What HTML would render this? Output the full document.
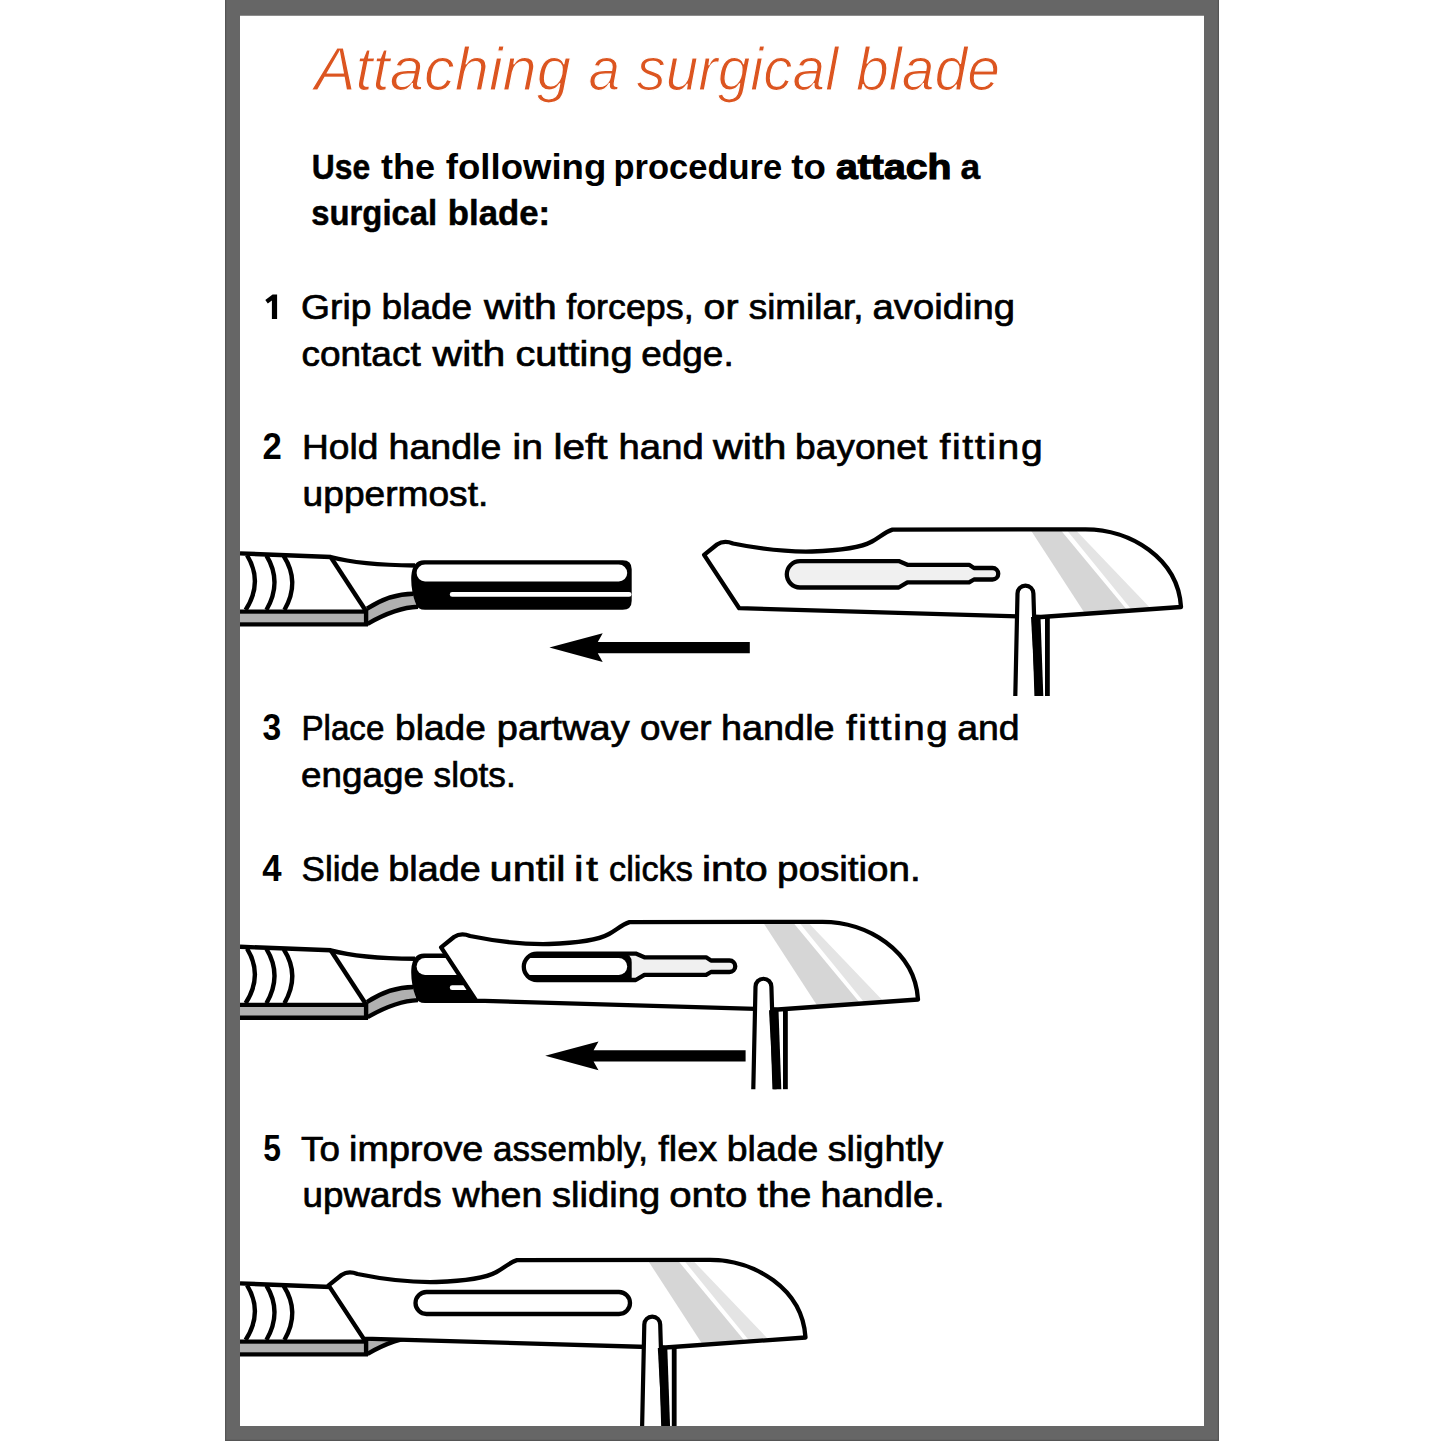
<!DOCTYPE html>
<html><head><meta charset="utf-8"><title>Attaching a surgical blade</title>
<style>
html,body{margin:0;padding:0;background:#fff;width:1445px;height:1445px;overflow:hidden}
svg{display:block;position:absolute;left:0;top:0}
text{font-family:"Liberation Sans",sans-serif}
.it{font-size:35.6px;fill:#000}
.num{font-size:35.6px;font-weight:bold;fill:#000}
</style></head>
<body>
<svg width="1445" height="1445" viewBox="0 0 1445 1445">
<defs>
  <!-- handle, step-2 coordinates -->
  <g id="handle">
    <path d="M240,613.4 L366,613.4 L366,622.6 L240,622.6 Z" fill="#b0b0b0"/>
    <path d="M367.1,608.7 Q389.8,593.7 413.5,593.7 L416,606.5 Q396.2,607.5 367.6,623.8 Z" fill="#b0b0b0"/>
    <g fill="none" stroke="#000" stroke-width="4.4">
      <path d="M240,553.4 L330.7,557 Q360,565 415,565.5"/>
      <path d="M330.7,557 L366,611"/>
      <path d="M240,611.6 L366,611.6"/>
      <path d="M240,624.4 L368,624.4"/>
      <path d="M366.1,609 L366.1,626"/>
      <path d="M367.1,608.7 Q389.8,593.7 413.5,593.7"/>
      <path d="M367.6,623.8 Q396.2,607.5 418,606.8"/>
      <path d="M247,555.2 Q263.5,582 245.6,610"/>
      <path d="M266.4,555.5 Q282.6,582 266.4,610"/>
      <path d="M283.7,556 Q300.5,582 284.4,610"/>
    </g>
    <path d="M424,560.3 L622.7,560.3 Q631.7,560.3 631.7,569.3 L631.7,600.8 Q631.7,609.8 622.7,609.8 L425,609.8 Q417.5,609.8 415.8,604 C412.5,595 410.8,585 411.3,576 Q412.5,560.3 424,560.3 Z" fill="#000"/>
    <rect x="416.6" y="564.6" width="210.6" height="17" rx="8.5" fill="#fff"/>
    <rect x="449.8" y="591.9" width="181.7" height="4.9" rx="2.4" fill="#fff"/>
  </g>
  <path id="bladeBody" d="M704.1,554.9 L717,544.5 Q724,539.8 733,543.5 C760,549 790,552 812,551.5 C840,550.5 862,547 872,541.5 C880,537 885,532 892.5,529.6 L1085.5,529.4 C1130,529.4 1178,558 1181,607 L1041,617 L739.2,608.2 Z"/>
  <path id="slot" d="M800,561.1 L898.7,561.1 L907.4,564.8 L969.1,564.8 L974,568 L992.5,568 A5.75,5.75 0 0 1 992.5,579.5 L974,579.5 L969.1,582.3 L907.4,582.3 L898.7,587.5 L800,587.5 A13.2,13.2 0 0 1 800,561.1 Z"/>
  <clipPath id="bladeClip"><use href="#bladeBody"/></clipPath>
  <g id="stripesRaw">
    <path d="M1030,529 L1059.8,529 L1132.8,617 L1087.2,617 Z" fill="#d6d6d6"/>
    <path d="M1065.9,529 L1074.7,529 L1158.8,617 L1137.5,617 Z" fill="#e4e4e4"/>
  </g>
  <g id="forceps">
    <path d="M1015.3,696 L1017.5,593.5 A7.95,7.95 0 0 1 1033.4,593.5 L1036.5,696" fill="#fff" stroke="#000" stroke-width="4.2"/>
    <path d="M1031,617 L1040.5,617 L1043.3,696 L1035.3,696 Z" fill="#000"/>
    <rect x="1045" y="617" width="4.8" height="79" fill="#000"/>
  </g>
  <path id="arrow" d="M549.4,647.5 L602.7,633.2 L597.8,642 L749.8,642 L749.8,653.2 L597.8,653.2 L602.7,661.9 Z" fill="#000"/>
</defs>

<!-- frame -->
<rect x="225" y="0" width="994" height="1441" fill="#666"/>
<rect x="240" y="15.5" width="964" height="1410.5" fill="#fff"/>

<!-- text -->
<text x="314.5" y="89.5" font-size="62" font-style="italic" fill="#dc5520" stroke="#fff" stroke-width="1.2" textLength="256.5" lengthAdjust="spacingAndGlyphs">Attaching</text>
<text x="588.5" y="89.5" font-size="62" font-style="italic" fill="#dc5520" stroke="#fff" stroke-width="1.2" textLength="31.6" lengthAdjust="spacingAndGlyphs">a</text>
<text x="636.4" y="89.5" font-size="62" font-style="italic" fill="#dc5520" stroke="#fff" stroke-width="1.2" textLength="201.8" lengthAdjust="spacingAndGlyphs">surgical</text>
<text x="855.9" y="89.5" font-size="62" font-style="italic" fill="#dc5520" stroke="#fff" stroke-width="1.2" textLength="144.1" lengthAdjust="spacingAndGlyphs">blade</text>
<text x="311.8" y="178.6" font-size="35.3" font-weight="bold" textLength="58.4" lengthAdjust="spacingAndGlyphs" stroke="#000" stroke-width="0.5">Use</text>
<text x="380.9" y="178.6" font-size="35.3" font-weight="bold" textLength="54.1" lengthAdjust="spacingAndGlyphs">the</text>
<text x="445.8" y="178.6" font-size="35.3" font-weight="bold" textLength="160.5" lengthAdjust="spacingAndGlyphs">following</text>
<text x="613.5" y="178.6" font-size="35.3" font-weight="bold" textLength="168.7" lengthAdjust="spacingAndGlyphs">procedure</text>
<text x="791.2" y="178.6" font-size="35.3" font-weight="bold" textLength="34.6" lengthAdjust="spacingAndGlyphs">to</text>
<text x="836.1" y="178.6" font-size="35.3" font-weight="bold" stroke="#000" stroke-width="1.2" textLength="115.2" lengthAdjust="spacingAndGlyphs">attach</text>
<text x="960.4" y="178.6" font-size="35.3" font-weight="bold" stroke="#000" stroke-width="0.5">a</text>
<text x="311.3" y="224.7" font-size="35.3" font-weight="bold" textLength="125.8" lengthAdjust="spacingAndGlyphs" stroke="#000" stroke-width="0.5">surgical</text>
<text x="447.8" y="224.7" font-size="35.3" font-weight="bold" textLength="102.2" lengthAdjust="spacingAndGlyphs" stroke="#000" stroke-width="0.5">blade:</text>
<text x="301.1" y="318.8" font-size="35.6" stroke="#000" stroke-width="0.7" textLength="70.3" lengthAdjust="spacingAndGlyphs">Grip</text>
<text x="381.6" y="318.8" font-size="35.6" stroke="#000" stroke-width="0.7" textLength="90.6" lengthAdjust="spacingAndGlyphs">blade</text>
<text x="484.0" y="318.8" font-size="35.6" stroke="#000" stroke-width="0.7" textLength="72.8" lengthAdjust="spacingAndGlyphs">with</text>
<text x="566.2" y="318.8" font-size="35.6" stroke="#000" stroke-width="0.7" textLength="127.4" lengthAdjust="spacingAndGlyphs">forceps,</text>
<text x="703.6" y="318.8" font-size="35.6" stroke="#000" stroke-width="0.7" textLength="34.9" lengthAdjust="spacingAndGlyphs">or</text>
<text x="748.7" y="318.8" font-size="35.6" stroke="#000" stroke-width="0.7" textLength="114.8" lengthAdjust="spacingAndGlyphs">similar,</text>
<text x="872.6" y="318.8" font-size="35.6" stroke="#000" stroke-width="0.7" textLength="142.3" lengthAdjust="spacingAndGlyphs">avoiding</text>
<text x="301.5" y="365.5" font-size="35.6" stroke="#000" stroke-width="0.7" textLength="119.2" lengthAdjust="spacingAndGlyphs">contact</text>
<text x="432.6" y="365.5" font-size="35.6" stroke="#000" stroke-width="0.7" textLength="72.8" lengthAdjust="spacingAndGlyphs">with</text>
<text x="515.4" y="365.5" font-size="35.6" stroke="#000" stroke-width="0.7" textLength="117.2" lengthAdjust="spacingAndGlyphs">cutting</text>
<text x="641.2" y="365.5" font-size="35.6" stroke="#000" stroke-width="0.7" textLength="92.5" lengthAdjust="spacingAndGlyphs">edge.</text>
<text x="302.0" y="459.4" font-size="35.6" stroke="#000" stroke-width="0.7" textLength="76.3" lengthAdjust="spacingAndGlyphs">Hold</text>
<text x="388.5" y="459.4" font-size="35.6" stroke="#000" stroke-width="0.7" textLength="112.8" lengthAdjust="spacingAndGlyphs">handle</text>
<text x="512.6" y="459.4" font-size="35.6" stroke="#000" stroke-width="0.7" textLength="30.4" lengthAdjust="spacingAndGlyphs">in</text>
<text x="553.4" y="459.4" font-size="35.6" stroke="#000" stroke-width="0.7" textLength="54.2" lengthAdjust="spacingAndGlyphs">left</text>
<text x="618.6" y="459.4" font-size="35.6" stroke="#000" stroke-width="0.7" textLength="85.1" lengthAdjust="spacingAndGlyphs">hand</text>
<text x="713.1" y="459.4" font-size="35.6" stroke="#000" stroke-width="0.7" textLength="73.3" lengthAdjust="spacingAndGlyphs">with</text>
<text x="795.0" y="459.4" font-size="35.6" stroke="#000" stroke-width="0.7" textLength="132.3" lengthAdjust="spacingAndGlyphs">bayonet</text>
<text x="939.5" y="459.4" font-size="35.6" stroke="#000" stroke-width="0.7" letter-spacing="1.5" textLength="104.8" lengthAdjust="spacingAndGlyphs">fitting</text>
<text x="302.6" y="505.8" font-size="35.6" stroke="#000" stroke-width="0.7" textLength="185.7" lengthAdjust="spacingAndGlyphs">uppermost.</text>
<text x="301.4" y="740" font-size="35.6" stroke="#000" stroke-width="0.7" textLength="83.0" lengthAdjust="spacingAndGlyphs">Place</text>
<text x="395.1" y="740" font-size="35.6" stroke="#000" stroke-width="0.7" textLength="90.7" lengthAdjust="spacingAndGlyphs">blade</text>
<text x="496.8" y="740" font-size="35.6" stroke="#000" stroke-width="0.7" textLength="132.8" lengthAdjust="spacingAndGlyphs">partway</text>
<text x="640.1" y="740" font-size="35.6" stroke="#000" stroke-width="0.7" textLength="71.5" lengthAdjust="spacingAndGlyphs">over</text>
<text x="721.0" y="740" font-size="35.6" stroke="#000" stroke-width="0.7" textLength="113.6" lengthAdjust="spacingAndGlyphs">handle</text>
<text x="846.0" y="740" font-size="35.6" stroke="#000" stroke-width="0.7" letter-spacing="1.5" textLength="103.4" lengthAdjust="spacingAndGlyphs">fitting</text>
<text x="957.2" y="740" font-size="35.6" stroke="#000" stroke-width="0.7" textLength="62.4" lengthAdjust="spacingAndGlyphs">and</text>
<text x="301.1" y="786.6" font-size="35.6" stroke="#000" stroke-width="0.7" textLength="122.9" lengthAdjust="spacingAndGlyphs">engage</text>
<text x="433.6" y="786.6" font-size="35.6" stroke="#000" stroke-width="0.7" textLength="82.1" lengthAdjust="spacingAndGlyphs">slots.</text>
<text x="301.6" y="880.5" font-size="35.6" stroke="#000" stroke-width="0.7" textLength="78.0" lengthAdjust="spacingAndGlyphs">Slide</text>
<text x="388.3" y="880.5" font-size="35.6" stroke="#000" stroke-width="0.7" textLength="92.4" lengthAdjust="spacingAndGlyphs">blade</text>
<text x="489.6" y="880.5" font-size="35.6" stroke="#000" stroke-width="0.7" textLength="76.0" lengthAdjust="spacingAndGlyphs">until</text>
<text x="574.1" y="880.5" font-size="35.6" stroke="#000" stroke-width="0.7" letter-spacing="2" textLength="26.3" lengthAdjust="spacingAndGlyphs">it</text>
<text x="609.1" y="880.5" font-size="35.6" stroke="#000" stroke-width="0.7" textLength="83.7" lengthAdjust="spacingAndGlyphs">clicks</text>
<text x="702.0" y="880.5" font-size="35.6" stroke="#000" stroke-width="0.7" textLength="65.8" lengthAdjust="spacingAndGlyphs">into</text>
<text x="777.1" y="880.5" font-size="35.6" stroke="#000" stroke-width="0.7" textLength="143.6" lengthAdjust="spacingAndGlyphs">position.</text>
<text x="301.1" y="1160.9" font-size="35.6" stroke="#000" stroke-width="0.7" textLength="38.8" lengthAdjust="spacingAndGlyphs">To</text>
<text x="349.1" y="1160.9" font-size="35.6" stroke="#000" stroke-width="0.7" textLength="134.2" lengthAdjust="spacingAndGlyphs">improve</text>
<text x="493.1" y="1160.9" font-size="35.6" stroke="#000" stroke-width="0.7" textLength="155.0" lengthAdjust="spacingAndGlyphs">assembly,</text>
<text x="658.3" y="1160.9" font-size="35.6" stroke="#000" stroke-width="0.7" textLength="58.9" lengthAdjust="spacingAndGlyphs">flex</text>
<text x="726.8" y="1160.9" font-size="35.6" stroke="#000" stroke-width="0.7" textLength="91.5" lengthAdjust="spacingAndGlyphs">blade</text>
<text x="827.7" y="1160.9" font-size="35.6" stroke="#000" stroke-width="0.7" textLength="115.5" lengthAdjust="spacingAndGlyphs">slightly</text>
<text x="302.6" y="1207.2" font-size="35.6" stroke="#000" stroke-width="0.7" textLength="139.0" lengthAdjust="spacingAndGlyphs">upwards</text>
<text x="452.5" y="1207.2" font-size="35.6" stroke="#000" stroke-width="0.7" textLength="90.0" lengthAdjust="spacingAndGlyphs">when</text>
<text x="552.0" y="1207.2" font-size="35.6" stroke="#000" stroke-width="0.7" textLength="108.2" lengthAdjust="spacingAndGlyphs">sliding</text>
<text x="669.2" y="1207.2" font-size="35.6" stroke="#000" stroke-width="0.7" textLength="78.3" lengthAdjust="spacingAndGlyphs">onto</text>
<text x="757.3" y="1207.2" font-size="35.6" stroke="#000" stroke-width="0.7" textLength="54.1" lengthAdjust="spacingAndGlyphs">the</text>
<text x="820.5" y="1207.2" font-size="35.6" stroke="#000" stroke-width="0.7" textLength="124.0" lengthAdjust="spacingAndGlyphs">handle.</text>
<text x="262.6" y="459.4" font-size="36" font-weight="bold" textLength="19.3" lengthAdjust="spacingAndGlyphs">2</text>
<text x="262.6" y="740" font-size="36" font-weight="bold" textLength="18.7" lengthAdjust="spacingAndGlyphs">3</text>
<text x="262.3" y="880.5" font-size="36" font-weight="bold" textLength="19.3" lengthAdjust="spacingAndGlyphs">4</text>
<text x="263.3" y="1160.9" font-size="36" font-weight="bold" textLength="17.7" lengthAdjust="spacingAndGlyphs">5</text>
<path d="M272.6,294.4 L277.1,294.4 L277.1,318.9 L271.9,318.9 L271.9,300.6 L267.8,303.4 L265.3,299.9 Z" fill="#000"/>
<!-- step 2 illustration -->
<g>
  <use href="#handle"/>
  <use href="#slot" fill="#f0f0f0"/>
  <path d="M704.1,554.9 L717,544.5 Q724,539.8 733,543.5 C760,549 790,552 812,551.5 C840,550.5 862,547 872,541.5 C880,537 885,532 892.5,529.6 L1085.5,529.4 C1130,529.4 1178,558 1181,607 L1041,617 L739.2,608.2 Z M800,561.1 L898.7,561.1 L907.4,564.8 L969.1,564.8 L974,568 L992.5,568 A5.75,5.75 0 0 1 992.5,579.5 L974,579.5 L969.1,582.3 L907.4,582.3 L898.7,587.5 L800,587.5 A13.2,13.2 0 0 1 800,561.1 Z" fill="#fff" fill-rule="evenodd"/>
  <g clip-path="url(#bladeClip)"><use href="#stripesRaw"/></g>
  <use href="#bladeBody" fill="none" stroke="#000" stroke-width="4.3" stroke-linejoin="round"/>
  <use href="#slot" fill="none" stroke="#000" stroke-width="4.3" stroke-linejoin="round"/>
  <use href="#forceps"/>
  <use href="#arrow"/>
</g>

<!-- step 4 illustration -->
<g>
  <g transform="translate(-263,392.5)"><use href="#slot" fill="#f0f0f0"/></g>
  <g transform="translate(0,393.3)"><use href="#handle"/></g>
  <g transform="translate(-263,392.5)">
    <path d="M704.1,554.9 L717,544.5 Q724,539.8 733,543.5 C760,549 790,552 812,551.5 C840,550.5 862,547 872,541.5 C880,537 885,532 892.5,529.6 L1085.5,529.4 C1130,529.4 1178,558 1181,607 L1041,617 L739.2,608.2 Z M800,561.1 L898.7,561.1 L907.4,564.8 L969.1,564.8 L974,568 L992.5,568 A5.75,5.75 0 0 1 992.5,579.5 L974,579.5 L969.1,582.3 L907.4,582.3 L898.7,587.5 L800,587.5 A13.2,13.2 0 0 1 800,561.1 Z" fill="#fff" fill-rule="evenodd"/>
    <g clip-path="url(#bladeClip)"><use href="#stripesRaw" transform="translate(-4.5,0)"/></g>
    <use href="#bladeBody" fill="none" stroke="#000" stroke-width="4.3" stroke-linejoin="round"/>
    <use href="#slot" fill="none" stroke="#000" stroke-width="4.3" stroke-linejoin="round"/>
  </g>
  <g transform="translate(-262,393.2)"><use href="#forceps"/></g>
  <g transform="translate(-4.2,408.3)"><use href="#arrow"/></g>
</g>

<!-- step 5 illustration -->
<g>
  <g transform="translate(0,730)"><use href="#handle"/></g>
  <g transform="translate(-375.5,730.5)">
    <use href="#bladeBody" fill="#fff"/>
    <g clip-path="url(#bladeClip)"><use href="#stripesRaw" transform="translate(-7.2,0)"/></g>
    <use href="#bladeBody" fill="none" stroke="#000" stroke-width="4.3" stroke-linejoin="round"/>
  </g>
  <rect x="415.5" y="1292" width="214.5" height="22" rx="11" fill="#fff" stroke="#000" stroke-width="4.3"/>
  <g transform="translate(-373.2,731)"><use href="#forceps"/></g>
</g>

<!-- frame border on top (clips illustrations) -->
<path d="M225,0 H1219 V1441 H225 Z M240,15.5 V1426 H1204 V15.5 Z" fill="#666" fill-rule="evenodd"/>
<path d="M225.6,0 V1440.4 H1218.4 V0" fill="none" stroke="#555" stroke-width="1.2"/>
</svg>
</body></html>
